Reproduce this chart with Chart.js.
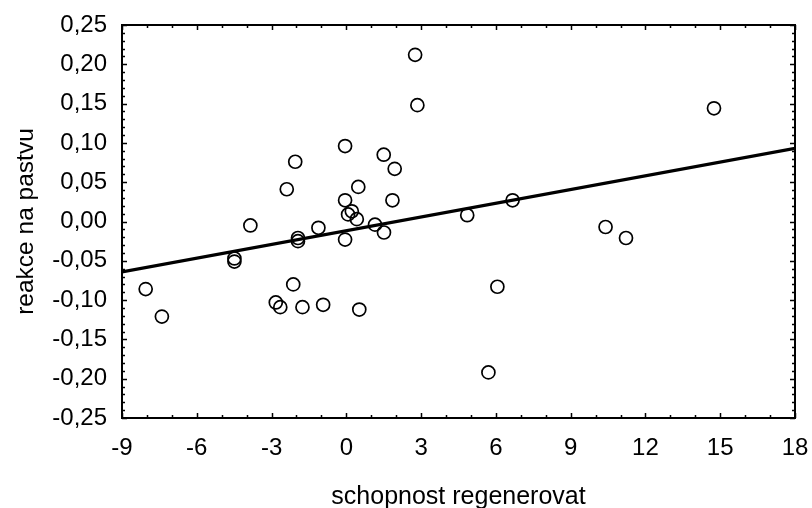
<!DOCTYPE html>
<html>
<head>
<meta charset="utf-8">
<script src="https://cdn.jsdelivr.net/npm/chart.js@4/dist/chart.umd.min.js"></script>
<style>
  html, body { margin: 0; padding: 0; background: #fff; }
  #wrap { width: 812px; height: 508px; }
</style>
</head>
<body>
<div id="wrap"><canvas id="graf" width="812" height="508"></canvas></div>
<script>
// schopnost regenerovat (x) vs. reakce na pastvu (y)
const bodyX = [2.76, 2.85, -0.05, -2.05, 1.50, 1.94, -2.39, 0.48, -0.05, 1.85,
  0.22, 0.07, 0.42, -3.85, -1.12, 1.15, 1.51, -0.05, -1.94, -1.94,
  -4.49, -4.49, -8.05, -7.40, -2.13, -2.83, -2.65, -1.76, -0.93, 0.52,
  14.75, 6.67, 4.85, 10.40, 11.22, 6.06, 5.70];
const bodyY = [0.212, 0.148, 0.096, 0.076, 0.085, 0.067, 0.041, 0.044, 0.027, 0.027,
  0.013, 0.009, 0.003, -0.005, -0.008, -0.004, -0.014, -0.023, -0.021, -0.025,
  -0.047, -0.051, -0.086, -0.121, -0.080, -0.103, -0.109, -0.109, -0.106, -0.112,
  0.144, 0.027, 0.008, -0.007, -0.021, -0.083, -0.192];

// regresni primka - koncove body
const primkaX = [-9, 18];
const primkaY = [-0.064, 0.093];

const xTicks = [-9, -6, -3, 0, 3, 6, 9, 12, 15, 18];
const yTicks = [0.25, 0.20, 0.15, 0.10, 0.05, 0.00, -0.05, -0.10, -0.15, -0.20, -0.25];

const FONT = '"Liberation Sans", Arial, sans-serif';

// ramecek a tiky dovnitr
const ramecek = {
  id: 'ramecek',
  afterDatasetsDraw(chart) {
    const { ctx, chartArea: a, scales: { x, y } } = chart;
    ctx.save();
    ctx.strokeStyle = '#000';
    ctx.lineWidth = 2;
    ctx.strokeRect(a.left, a.top, a.right - a.left, a.bottom - a.top);
    ctx.lineWidth = 1.5;
    ctx.beginPath();
    for (let v = -9; v <= 18; v++) {
      const px = Math.round(x.getPixelForValue(v)) + 0.5;
      const len = v % 3 === 0 ? 5 : 3;
      ctx.moveTo(px, a.bottom); ctx.lineTo(px, a.bottom - len);
      ctx.moveTo(px, a.top); ctx.lineTo(px, a.top + len);
    }
    for (let i = -25; i <= 25; i++) {
      const py = Math.round(y.getPixelForValue(i / 100)) + 0.5;
      const len = i % 5 === 0 ? 5 : 3;
      ctx.moveTo(a.left, py); ctx.lineTo(a.left + len, py);
      ctx.moveTo(a.right, py); ctx.lineTo(a.right - len, py);
    }
    ctx.stroke();
    ctx.restore();
  }
};

new Chart(document.getElementById('graf'), {
  type: 'scatter',
  data: {
    datasets: [
      {
        type: 'line',
        data: primkaX.map((v, i) => ({ x: v, y: primkaY[i] })),
        borderColor: '#000',
        borderWidth: 3.2,
        pointRadius: 0,
        fill: false,
        order: 2
      },
      {
        data: bodyX.map((v, i) => ({ x: v, y: bodyY[i] })),
        pointRadius: 6.5,
        pointBorderWidth: 1.7,
        pointBorderColor: '#000',
        pointBackgroundColor: 'rgba(0,0,0,0)',
        order: 1
      }
    ]
  },
  plugins: [ramecek],
  options: {
    responsive: false,
    animation: false,
    layout: { padding: { left: 0, right: 17, top: 25, bottom: 0 } },
    plugins: { legend: { display: false }, tooltip: { enabled: false } },
    scales: {
      x: {
        type: 'linear',
        min: -9, max: 18,
        afterBuildTicks: s => { s.ticks = xTicks.map(v => ({ value: v })); },
        afterFit: s => { s.height = 90; s.paddingLeft = 0; s.paddingRight = 0; },
        grid: { display: false, drawTicks: false },
        border: { display: false },
        ticks: { color: '#000', padding: 16, font: { family: FONT, size: 24 } },
        title: { display: true, text: 'schopnost regenerovat', color: '#000',
          padding: { top: 0, bottom: 0 }, font: { family: FONT, size: 25, lineHeight: 0.9 } }
      },
      y: {
        type: 'linear',
        min: -0.25, max: 0.25,
        afterBuildTicks: s => { s.ticks = yTicks.map(v => ({ value: v })); },
        afterFit: s => { s.width = 122; s.paddingTop = 0; s.paddingBottom = 0; },
        grid: { display: false, drawTicks: false },
        border: { display: false },
        ticks: {
          color: '#000', padding: 15, font: { family: FONT, size: 24 },
          callback: v => (Math.abs(v) < 1e-9 ? 0 : v).toFixed(2).replace('.', ',')
        },
        title: { display: true, text: 'reakce na pastvu', color: '#000',
          padding: { top: 12, bottom: 0 }, font: { family: FONT, size: 24.5 } }
      }
    }
  }
});
</script>
</body>
</html>
